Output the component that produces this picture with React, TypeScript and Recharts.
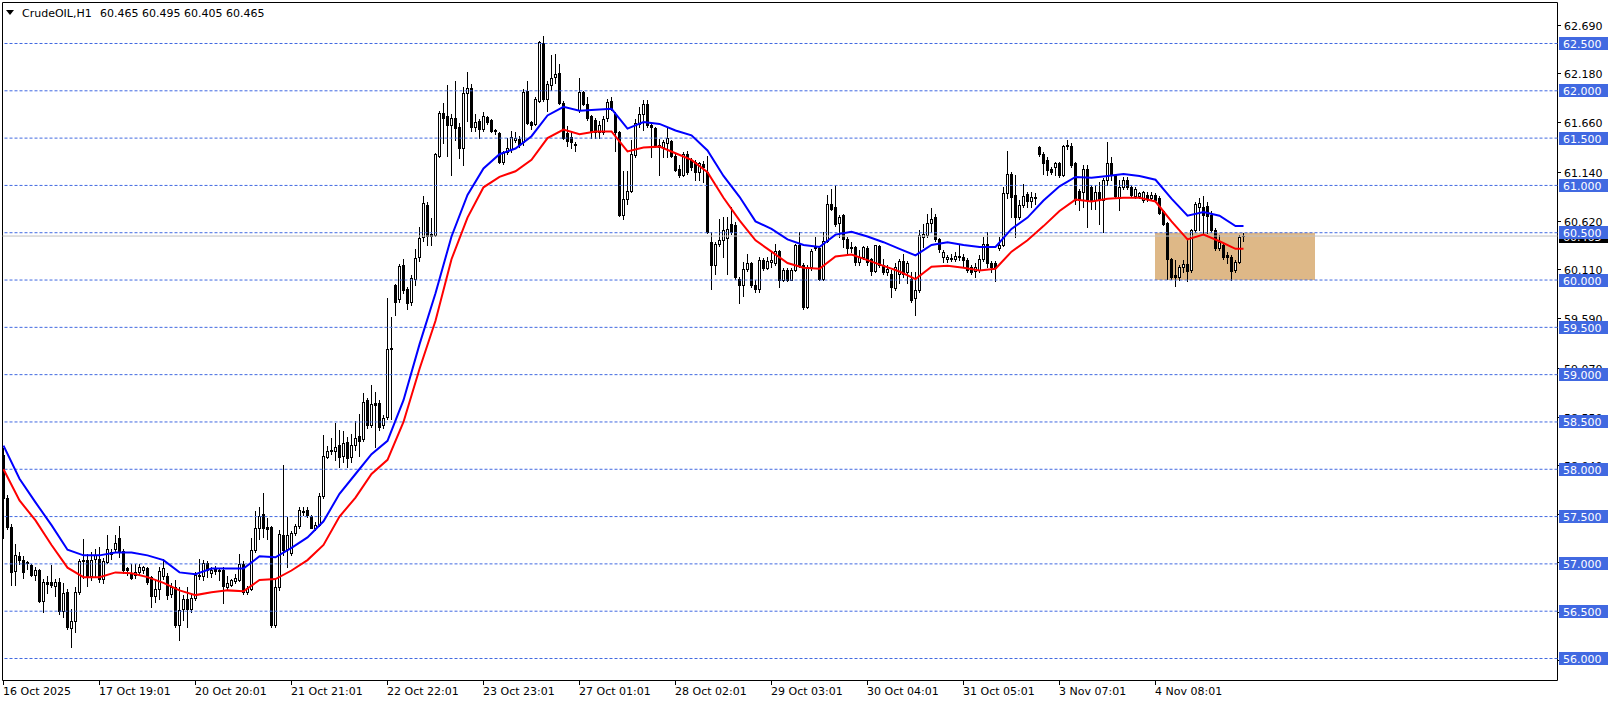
import React from 'react';
import { ComposedChart, Bar, Line, XAxis, YAxis, ReferenceLine, ReferenceArea } from 'recharts';

// ---------- data ----------
const opens = [
  58.15, 57.69, 57.38, 56.92, 57.08, 57.04, 57.00, 56.98, 56.88, 56.93,
  56.60, 56.80, 56.80, 56.76, 56.80, 56.50, 56.70, 56.32, 56.39, 56.70,
  57.02, 57.04, 56.87, 57.05, 57.05, 56.83, 57.01, 57.12, 57.15, 57.27,
  57.13, 56.95, 56.90, 56.88, 56.91, 56.93, 56.95, 56.86, 56.65, 56.73,
  56.87, 56.87, 56.68, 56.75, 56.35, 56.52, 56.62, 56.52, 56.63, 56.87,
  56.87, 57.00, 56.90, 56.94, 56.93, 56.93, 56.75, 56.77, 56.81, 56.82,
  56.99, 56.70, 56.73, 57.14, 57.37, 57.52, 57.38, 57.38, 56.35, 56.75,
  57.30, 57.15, 57.11, 57.32, 57.39, 57.55, 57.56, 57.50, 57.37, 57.41,
  57.71, 58.12, 58.19, 58.19, 58.25, 58.13, 58.28, 58.12, 58.25, 58.35,
  58.31, 58.73, 58.46, 58.69, 58.70, 58.46, 58.55, 59.28, 59.94, 59.79,
  60.15, 59.90, 59.76, 60.01, 60.24, 60.45, 60.79, 60.48, 60.47, 61.31,
  61.76, 61.73, 61.63, 61.71, 61.61, 61.39, 61.97, 62.02, 61.61, 61.68,
  61.59, 61.72, 61.69, 61.57, 61.55, 61.24, 61.35, 61.38, 61.47, 61.49,
  61.45, 61.99, 61.66, 61.64, 61.89, 62.50, 61.91, 62.06, 62.14, 62.18,
  61.87, 61.55, 61.51, 61.43, 61.79, 61.98, 61.86, 61.73, 61.69, 61.56,
  61.56, 61.71, 61.89, 61.75, 61.56, 60.68, 60.85, 60.94, 61.32, 61.64,
  61.75, 61.85, 61.63, 61.60, 61.42, 61.40, 61.44, 61.46, 61.31, 61.17,
  61.11, 61.33, 61.26, 61.24, 61.14, 61.22, 61.14, 60.40, 60.15, 60.38,
  60.42, 60.44, 60.59, 60.58, 60.01, 59.94, 60.11, 60.17, 59.94, 59.90,
  60.21, 60.12, 60.19, 60.18, 60.30, 60.00, 60.10, 60.00, 60.10, 60.36,
  60.15, 59.71, 60.13, 60.34, 60.33, 60.01, 60.41, 60.80, 60.77, 60.60,
  60.68, 60.43, 60.34, 60.34, 60.19, 60.24, 60.33, 60.22, 60.09, 60.35,
  60.15, 60.08, 60.06, 59.91, 60.06, 60.20, 60.08, 60.01, 59.80, 59.89,
  60.45, 60.47, 60.60, 60.66, 60.43, 60.24, 60.22, 60.22, 60.22, 60.25,
  60.24, 60.21, 60.13, 60.09, 60.10, 60.22, 60.38, 60.17, 60.18, 60.33,
  60.36, 60.91, 61.12, 60.89, 60.66, 60.79, 60.90, 60.83, 60.87, 61.40,
  61.33, 61.26, 61.17, 61.19, 61.23, 61.10, 61.41, 61.41, 61.23, 60.94,
  60.92, 61.17, 60.98, 60.84, 60.93, 60.84, 61.05, 61.23, 61.10, 60.86,
  60.98, 61.05, 60.98, 60.88, 60.88, 60.84, 60.89, 60.86, 60.89, 60.86,
  60.72, 60.60, 60.22, 60.05, 60.03, 60.13, 60.16, 60.10, 60.52, 60.77,
  60.77, 60.78, 60.68, 60.52, 60.33, 60.37, 60.26, 60.24, 60.10, 60.19, 60.465,
];
const highs = [
  58.22, 57.72, 57.42, 57.20, 57.12, 57.08, 57.03, 56.99, 56.96, 56.94,
  56.84, 56.87, 56.98, 56.84, 56.85, 56.79, 56.73, 56.52, 56.75, 57.05,
  57.26, 57.10, 57.12, 57.15, 57.17, 57.06, 57.30, 57.15, 57.30, 57.40,
  57.15, 56.96, 56.99, 56.99, 56.99, 56.97, 56.96, 56.87, 56.82, 56.96,
  57.05, 56.90, 56.79, 56.82, 56.75, 56.67, 56.75, 56.68, 56.91, 57.05,
  57.04, 57.02, 56.96, 56.97, 56.95, 56.96, 56.87, 56.84, 56.89, 57.10,
  57.02, 56.76, 57.27, 57.55, 57.60, 57.74, 57.48, 57.40, 56.84, 57.35,
  58.04, 57.49, 57.34, 57.42, 57.60, 57.60, 57.60, 57.51, 57.44, 57.74,
  58.36, 58.24, 58.32, 58.48, 58.41, 58.40, 58.34, 58.37, 58.50, 58.58,
  58.80, 58.75, 58.89, 58.81, 58.73, 58.57, 59.80, 59.60, 59.95, 60.16,
  60.22, 59.92, 60.05, 60.32, 60.56, 60.88, 60.82, 60.65, 61.34, 61.78,
  61.87, 62.06, 61.75, 62.10, 61.65, 62.04, 62.19, 62.07, 61.75, 61.70,
  61.77, 61.73, 61.70, 61.59, 61.56, 61.36, 61.50, 61.57, 61.56, 61.52,
  62.01, 62.10, 61.68, 61.93, 62.52, 62.57, 62.10, 62.37, 62.38, 62.28,
  61.89, 61.62, 61.56, 61.45, 62.13, 61.99, 61.93, 61.74, 61.71, 61.68,
  61.73, 61.91, 61.93, 61.77, 61.57, 61.15, 61.15, 61.47, 61.70, 61.82,
  61.90, 61.90, 61.65, 61.61, 61.49, 61.48, 61.60, 61.48, 61.33, 61.21,
  61.35, 61.36, 61.28, 61.26, 61.24, 61.25, 61.31, 60.50, 60.40, 60.64,
  60.66, 60.66, 60.77, 60.61, 60.03, 60.19, 60.27, 60.19, 59.99, 60.24,
  60.23, 60.24, 60.29, 60.38, 60.31, 60.12, 60.12, 60.12, 60.38, 60.50,
  60.17, 60.15, 60.32, 60.45, 60.34, 60.50, 60.89, 60.96, 61.00, 60.68,
  60.69, 60.45, 60.40, 60.35, 60.31, 60.35, 60.35, 60.23, 60.37, 60.36,
  60.22, 60.15, 60.10, 60.18, 60.22, 60.27, 60.20, 60.08, 60.08, 60.52,
  60.59, 60.69, 60.76, 60.69, 60.44, 60.31, 60.26, 60.27, 60.29, 60.37,
  60.27, 60.23, 60.15, 60.17, 60.26, 60.45, 60.50, 60.20, 60.20, 60.45,
  60.98, 61.36, 61.14, 61.10, 60.84, 61.01, 60.93, 60.93, 60.91, 61.41,
  61.35, 61.30, 61.19, 61.24, 61.24, 61.42, 61.48, 61.44, 61.24, 60.96,
  61.21, 61.21, 61.00, 61.00, 61.03, 61.07, 61.45, 61.30, 61.12, 61.05,
  61.08, 61.08, 61.00, 60.98, 60.93, 60.94, 60.93, 60.92, 60.91, 60.88,
  60.73, 60.61, 60.23, 60.21, 60.15, 60.21, 60.42, 60.53, 60.82, 60.86,
  60.88, 60.82, 60.72, 60.54, 60.47, 60.38, 60.29, 60.26, 60.21, 60.47, 60.495,
];
const lows = [
  57.27, 57.36, 56.77, 56.77, 56.99, 56.85, 56.94, 56.87, 56.82, 56.59,
  56.49, 56.69, 56.75, 56.65, 56.47, 56.43, 56.31, 56.12, 56.28, 56.68,
  56.85, 56.76, 56.82, 56.86, 56.80, 56.79, 57.00, 57.05, 57.13, 57.07,
  56.90, 56.88, 56.83, 56.85, 56.88, 56.90, 56.78, 56.54, 56.59, 56.62,
  56.84, 56.62, 56.64, 56.33, 56.19, 56.40, 56.33, 56.49, 56.61, 56.84,
  56.82, 56.86, 56.86, 56.89, 56.82, 56.58, 56.73, 56.76, 56.79, 56.81,
  56.68, 56.68, 56.72, 57.12, 57.26, 57.28, 57.26, 56.33, 56.33, 56.72,
  57.09, 56.96, 57.09, 57.30, 57.37, 57.51, 57.49, 57.37, 57.35, 57.39,
  57.69, 58.11, 58.16, 58.09, 58.02, 58.07, 58.02, 58.07, 58.20, 58.13,
  58.29, 58.43, 58.44, 58.23, 58.41, 58.43, 58.53, 58.53, 59.62, 59.76,
  59.86, 59.69, 59.73, 59.94, 60.20, 60.41, 60.37, 60.37, 60.46, 61.30,
  61.44, 61.31, 61.10, 61.47, 61.28, 61.21, 61.68, 61.57, 61.57, 61.50,
  61.57, 61.64, 61.56, 61.54, 61.23, 61.22, 61.33, 61.35, 61.45, 61.40,
  61.42, 61.64, 61.59, 61.63, 61.88, 61.89, 61.78, 62.00, 62.08, 61.86,
  61.49, 61.41, 61.39, 61.36, 61.77, 61.84, 61.69, 61.50, 61.50, 61.50,
  61.54, 61.68, 61.79, 61.36, 60.67, 60.64, 60.80, 60.93, 61.30, 61.61,
  61.58, 61.61, 61.30, 61.40, 61.10, 61.30, 61.30, 61.30, 61.15, 61.08,
  61.09, 61.12, 61.16, 61.05, 61.05, 61.03, 60.49, 59.90, 60.06, 60.35,
  60.24, 60.06, 60.48, 60.01, 59.75, 59.83, 60.09, 59.92, 59.87, 59.87,
  60.10, 60.11, 60.13, 60.15, 59.92, 59.98, 59.98, 59.99, 60.09, 60.13,
  59.69, 59.70, 60.10, 60.31, 59.99, 60.00, 60.40, 60.73, 60.57, 60.45,
  60.34, 60.28, 60.29, 60.15, 60.15, 60.22, 60.15, 60.05, 60.08, 60.13,
  60.06, 60.05, 59.82, 59.89, 59.96, 60.03, 59.96, 59.76, 59.62, 59.87,
  60.34, 60.45, 60.50, 60.41, 60.29, 60.19, 60.19, 60.20, 60.20, 60.21,
  60.13, 60.08, 60.06, 60.03, 60.08, 60.20, 60.13, 60.08, 59.98, 60.31,
  60.35, 60.86, 60.66, 60.45, 60.64, 60.77, 60.77, 60.77, 60.80, 61.31,
  61.12, 61.10, 61.12, 61.10, 61.08, 61.09, 61.38, 61.19, 60.80, 60.73,
  60.77, 60.56, 60.75, 60.75, 60.59, 60.50, 61.00, 61.05, 60.86, 60.73,
  60.96, 60.96, 60.87, 60.86, 60.86, 60.82, 60.83, 60.84, 60.82, 60.69,
  60.58, 60.01, 60.01, 59.93, 60.00, 60.08, 59.98, 60.08, 60.50, 60.52,
  60.49, 60.49, 60.50, 60.31, 60.31, 60.22, 60.17, 60.00, 60.08, 60.17, 60.405,
];
const closes = [
  57.69, 57.38, 56.91, 57.09, 57.04, 56.91, 57.01, 56.88, 56.93, 56.60,
  56.80, 56.78, 56.77, 56.80, 56.50, 56.69, 56.33, 56.39, 56.70, 57.03,
  57.04, 56.87, 57.04, 57.09, 56.83, 57.02, 57.15, 57.10, 57.22, 57.13,
  56.93, 56.93, 56.85, 56.91, 56.96, 56.96, 56.80, 56.65, 56.73, 56.92,
  56.95, 56.67, 56.75, 56.35, 56.51, 56.62, 56.52, 56.63, 56.88, 56.88,
  57.00, 56.93, 56.93, 56.92, 56.92, 56.76, 56.79, 56.82, 56.85, 56.99,
  56.70, 56.74, 57.14, 57.37, 57.50, 57.37, 57.36, 56.35, 56.75, 57.31,
  57.14, 57.30, 57.32, 57.39, 57.56, 57.54, 57.51, 57.37, 57.41, 57.71,
  58.13, 58.19, 58.20, 58.23, 58.12, 58.27, 58.11, 58.25, 58.33, 58.29,
  58.71, 58.46, 58.68, 58.67, 58.44, 58.54, 59.27, 59.27, 59.76, 60.14,
  59.89, 59.75, 60.02, 60.23, 60.44, 60.81, 60.46, 60.46, 61.33, 61.76,
  61.71, 61.63, 61.71, 61.60, 61.39, 61.97, 62.02, 61.61, 61.67, 61.59,
  61.73, 61.67, 61.57, 61.58, 61.24, 61.35, 61.39, 61.51, 61.50, 61.42,
  61.98, 61.65, 61.63, 61.91, 62.51, 61.91, 62.07, 62.13, 62.17, 61.87,
  61.50, 61.46, 61.45, 61.42, 61.98, 61.85, 61.71, 61.57, 61.56, 61.63,
  61.70, 61.88, 61.80, 61.56, 60.68, 60.85, 60.94, 61.33, 61.65, 61.75,
  61.85, 61.63, 61.61, 61.42, 61.40, 61.45, 61.50, 61.31, 61.16, 61.10,
  61.33, 61.14, 61.19, 61.14, 61.23, 61.19, 60.50, 60.15, 60.38, 60.42,
  60.52, 60.53, 60.50, 60.03, 59.94, 60.11, 60.18, 59.94, 59.90, 60.21,
  60.12, 60.20, 60.21, 60.30, 60.00, 60.10, 60.00, 60.10, 60.36, 60.15,
  59.71, 60.13, 60.30, 60.33, 60.01, 60.41, 60.80, 60.75, 60.59, 60.66,
  60.43, 60.33, 60.33, 60.19, 60.24, 60.34, 60.19, 60.09, 60.36, 60.15,
  60.08, 60.11, 59.92, 60.13, 60.20, 60.06, 60.17, 59.78, 59.89, 60.47,
  60.48, 60.60, 60.64, 60.43, 60.32, 60.29, 60.24, 60.23, 60.25, 60.24,
  60.21, 60.10, 60.08, 60.13, 60.22, 60.38, 60.17, 60.13, 60.12, 60.36,
  60.91, 61.12, 60.87, 60.66, 60.79, 60.88, 60.83, 60.87, 60.86, 61.33,
  61.23, 61.16, 61.14, 61.23, 61.10, 61.41, 61.42, 61.21, 60.84, 60.84,
  61.17, 60.84, 60.84, 60.93, 60.84, 61.05, 61.23, 61.10, 60.88, 60.98,
  61.05, 60.98, 60.89, 60.96, 60.91, 60.92, 60.85, 60.89, 60.84, 60.70,
  60.59, 60.22, 60.03, 60.03, 60.13, 60.16, 60.09, 60.52, 60.80, 60.81,
  60.68, 60.67, 60.52, 60.33, 60.40, 60.24, 60.24, 60.09, 60.19, 60.45, 60.465,
];

// moving averages read at every 4th bar (bar index in maIndex)
const maIndex = [
  0, 4, 8, 12, 16, 20, 24, 28, 32, 36, 40, 44, 48, 52, 56, 60, 64, 68, 72, 76,
  80, 84, 88, 92, 96, 100, 104, 108, 112, 116, 120, 124, 128, 132, 136, 140, 144, 148, 152, 156,
  160, 164, 168, 172, 176, 180, 184, 188, 192, 196, 200, 204, 208, 212, 216, 220, 224, 228, 232, 236,
  240, 244, 248, 252, 256, 260, 264, 268, 272, 276, 280, 284, 288, 292, 296, 300, 304, 308, 310,
];
const maBlue = [
  58.25, 57.9, 57.65, 57.41, 57.15, 57.09, 57.09, 57.12, 57.12, 57.09, 57.04, 56.91, 56.89, 56.95, 56.95, 56.95, 57.08, 57.07, 57.17, 57.28,
  57.45, 57.74, 57.95, 58.16, 58.3, 58.73, 59.32, 59.86, 60.46, 60.9, 61.18, 61.33, 61.39, 61.52, 61.74, 61.83, 61.79, 61.8, 61.81, 61.6,
  61.67, 61.65, 61.58, 61.53, 61.37, 61.1, 60.88, 60.62, 60.54, 60.43, 60.37, 60.35, 60.48, 60.51, 60.46, 60.4, 60.33, 60.26, 60.37, 60.4,
  60.37, 60.35, 60.35, 60.54, 60.66, 60.84, 60.99, 61.09, 61.08, 61.1, 61.12, 61.1, 61.06, 60.86, 60.68, 60.72, 60.68, 60.57, 60.57,
];
const maRed = [
  58.0, 57.67, 57.46, 57.2, 56.96, 56.86, 56.86, 56.91, 56.9, 56.86, 56.8, 56.72, 56.67, 56.7, 56.72, 56.71, 56.83, 56.84, 56.93, 57.04,
  57.2, 57.5, 57.7, 57.95, 58.1, 58.5, 59.06, 59.57, 60.22, 60.66, 60.98, 61.09, 61.15, 61.27, 61.5, 61.59, 61.54, 61.57, 61.57, 61.36,
  61.4, 61.41, 61.34, 61.27, 61.14, 60.87, 60.63, 60.42, 60.3, 60.18, 60.13, 60.12, 60.25, 60.27, 60.21, 60.15, 60.09, 60.01, 60.14, 60.15,
  60.13, 60.1, 60.12, 60.3, 60.42, 60.57, 60.73, 60.85, 60.83, 60.86, 60.87, 60.87, 60.83, 60.62, 60.43, 60.48, 60.41, 60.33, 60.33,
];

const dateLabels = [
  '16 Oct 2025', '17 Oct 19:01', '20 Oct 20:01', '21 Oct 21:01', '22 Oct 22:01', '23 Oct 23:01', '27 Oct 01:01',
  '28 Oct 02:01', '29 Oct 03:01', '30 Oct 04:01', '31 Oct 05:01', '3 Nov 07:01', '4 Nov 08:01',
];
const dateLabelIndex = [0, 24, 48, 72, 96, 120, 144, 168, 192, 216, 240, 264, 288];

const levelLines = [56.0, 56.5, 57.0, 57.5, 58.0, 58.5, 59.0, 59.5, 60.0, 60.5, 61.0, 61.5, 62.0, 62.5];
const scaleTicks = [62.69, 62.18, 61.66, 61.14, 60.62, 60.11, 59.59, 59.07, 58.55, 58.04, 57.52, 57.01, 56.49, 55.98];
const bidPrice = 60.465;
const headerSymbol = 'CrudeOIL,H1';
const headerPrices = '60.465 60.495 60.405 60.465';
const zone = { x1: 287.875, x2: 327.875, y1: 60.0, y2: 60.5 };

const X_DOMAIN: [number, number] = [-0.25, 388.5];
const Y_DOMAIN: [number, number] = [55.76748, 62.93333];

// ---------- derived table ----------
type Row = { i: number; o: number; h: number; l: number; c: number; range: [number, number]; blue: number | null; red: number | null };
const data: Row[] = opens.map((o, i) => ({
  i, o, h: highs[i], l: lows[i], c: closes[i], range: [lows[i], highs[i]], blue: null, red: null,
}));
maIndex.forEach((idx, k) => {
  data[idx].blue = maBlue[k];
  data[idx].red = maRed[k];
});

const FONT = '"DejaVu Sans", Verdana, sans-serif';
const LEVEL_BLUE = '#4169E1';

function CandleShape(props: any) {
  const { x, y, width, height, payload } = props;
  if (!payload || x == null || y == null) return null;
  const top = Math.min(y, y + height);
  const span = Math.abs(height);
  const { o, h, l, c } = payload as Row;
  const toY = (p: number) => (h === l ? top : top + ((h - p) / (h - l)) * span);
  const snap = (v: number) => Math.floor(v) + 0.5;
  const cx = snap(x + width / 2);
  const yH = snap(toY(h));
  const yL = snap(toY(l));
  const yO = snap(toY(o));
  const yC = snap(toY(c));
  const wick = <line x1={cx} x2={cx} y1={yH - 0.5} y2={yL + 0.5} stroke="#000" strokeWidth={1} />;
  if (c > o) {
    const hgt = yO - yC;
    return (
      <g shapeRendering="crispEdges">
        {wick}
        {hgt >= 1 ? (
          <rect x={cx - 1} y={yC} width={2} height={hgt} fill="#fff" stroke="#000" strokeWidth={1} />
        ) : (
          <line x1={cx - 1.5} x2={cx + 1.5} y1={yC} y2={yC} stroke="#000" strokeWidth={1} />
        )}
      </g>
    );
  }
  return (
    <g shapeRendering="crispEdges">
      {wick}
      <rect x={cx - 1.5} y={yO - 0.5} width={3} height={Math.max(yC - yO + 1, 1)} fill="#000" />
    </g>
  );
}

function PriceTick(props: any) {
  const { x, y, payload } = props;
  const v: number = payload.value;
  const yy = Math.floor(y) + 0.5;
  if (levelLines.includes(v)) {
    return (
      <g shapeRendering="crispEdges">
        <rect x={x + 1.5} y={yy - 6.5} width={49} height={13} fill={LEVEL_BLUE} />
        <text x={x + 5.5} y={yy + 4} fill="#fff" fontSize={11} fontFamily={FONT}>{v.toFixed(3)}</text>
      </g>
    );
  }
  if (v === bidPrice) {
    return (
      <g shapeRendering="crispEdges">
        <rect x={x + 1.5} y={yy - 6.5} width={49} height={13} fill="#000" />
        <text x={x + 5.5} y={yy + 4} fill="#fff" fontSize={11} fontFamily={FONT}>{v.toFixed(3)}</text>
      </g>
    );
  }
  return (
    <g>
      <line x1={x} x2={x + 3} y1={yy} y2={yy} stroke="#000" strokeWidth={1} shapeRendering="crispEdges" />
      <text x={x + 6.5} y={yy + 4} fill="#000" fontSize={11} fontFamily={FONT}>{v.toFixed(3)}</text>
    </g>
  );
}

function DateTick(props: any) {
  const { x, y, payload } = props;
  const k = dateLabelIndex.indexOf(payload.value);
  if (k < 0) return null;
  const xx = Math.floor(x) + 0.5;
  return (
    <g>
      <line x1={xx} x2={xx} y1={y} y2={y + 4} stroke="#000" strokeWidth={1} shapeRendering="crispEdges" />
      <text x={xx - 0.5} y={y + 14} fill="#000" fontSize={11} fontFamily={FONT}>{dateLabels[k]}</text>
    </g>
  );
}

const rightTicks = [...scaleTicks, bidPrice, ...levelLines];

export default function App() {
  return (
    <div style={{ position: 'absolute', left: 0, top: 0, width: 1614, height: 704, background: '#fff' }}>
      <ComposedChart
        width={1614}
        height={704}
        data={data}
        margin={{ top: 2.5, right: 0, bottom: 0, left: 2.5 }}
      >
        <XAxis
          dataKey="i"
          type="number"
          scale="linear"
          domain={X_DOMAIN}
          allowDataOverflow
          ticks={dateLabelIndex}
          interval={0}
          height={23.5}
          axisLine={false}
          tickLine={false}
          tickSize={0}
          tickMargin={0}
          tick={<DateTick />}
        />
        <YAxis
          orientation="right"
          type="number"
          domain={Y_DOMAIN}
          allowDataOverflow
          ticks={rightTicks}
          interval={0}
          width={56.5}
          axisLine={false}
          tickLine={false}
          tickSize={0}
          tickMargin={0}
          tick={<PriceTick />}
        />
        <ReferenceArea
          x1={zone.x1}
          x2={zone.x2}
          y1={zone.y1}
          y2={zone.y2}
          fill="#DEB887"
          fillOpacity={1}
          stroke="none"
        />
        <ReferenceLine y={bidPrice} stroke="#C0C0C0" strokeWidth={1} />
        {levelLines.map((v) => (
          <ReferenceLine key={v} y={v} stroke={LEVEL_BLUE} strokeWidth={1} strokeDasharray="3 2" />
        ))}
        <Bar dataKey="range" barSize={4} shape={<CandleShape />} isAnimationActive={false} />
        <Line dataKey="red" stroke="#FF0000" strokeWidth={2} dot={false} connectNulls isAnimationActive={false} />
        <Line dataKey="blue" stroke="#0000FF" strokeWidth={2} dot={false} connectNulls isAnimationActive={false} />
        <ReferenceArea
          x1={X_DOMAIN[0]}
          x2={X_DOMAIN[1]}
          y1={Y_DOMAIN[0]}
          y2={Y_DOMAIN[1]}
          fill="none"
          stroke="#000"
          strokeWidth={1}
        />
      </ComposedChart>
      <svg
        width={300}
        height={24}
        style={{ position: 'absolute', left: 0, top: 0, pointerEvents: 'none' }}
      >
        <polygon points="6,10 14,10 10,15" fill="#000" />
        <text x={22} y={17} fontSize={11} fontFamily={FONT} fill="#000">{headerSymbol}</text>
        <text x={100} y={17} fontSize={11} fontFamily={FONT} fill="#000">{headerPrices}</text>
      </svg>
    </div>
  );
}
